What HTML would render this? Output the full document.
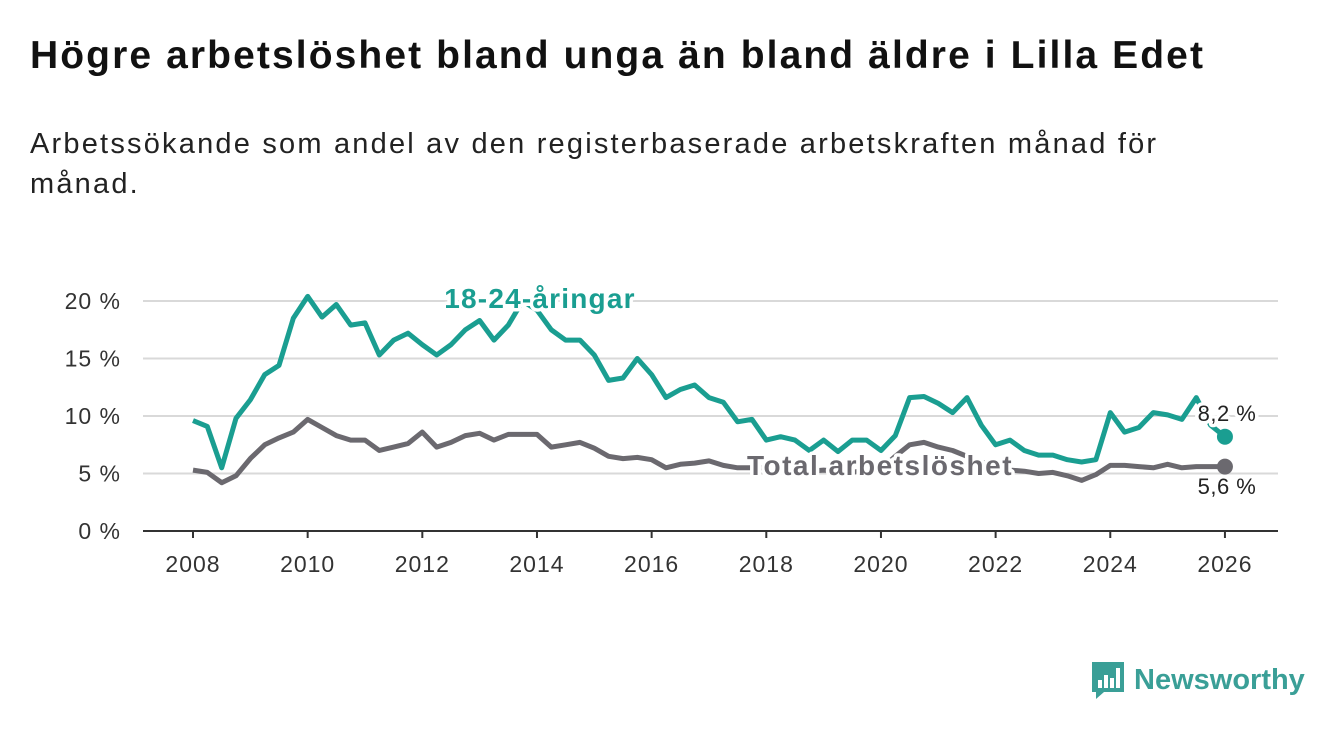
<!DOCTYPE html>
<html><head><meta charset="utf-8"><style>
body{margin:0;width:1340px;height:734px;background:#fff;font-family:"Liberation Sans",sans-serif;overflow:hidden;position:relative}
h1{position:absolute;left:30px;top:34px;margin:0;font-size:39px;font-weight:bold;color:#111;letter-spacing:2.1px}
p.sub{position:absolute;left:30px;top:124px;margin:0;font-size:29px;line-height:40px;color:#222;width:1200px;letter-spacing:2.2px}
svg{position:absolute;left:0;top:0}
.logo{position:absolute;left:1090px;top:660px;display:flex;align-items:center;gap:8px;color:#3a9f97;font-size:29px;font-weight:bold}
</style></head><body>
<h1>Högre arbetslöshet bland unga än bland äldre i Lilla Edet</h1>
<p class="sub">Arbetssökande som andel av den registerbaserade arbetskraften månad för månad.</p>
<svg id="chart" width="1340" height="734"></svg>
<div class="logo">
<svg width="36" height="40" viewBox="0 0 36 40" style="position:static"><path d="M2 2h32v30H14l-8 7v-7H2z" fill="#3a9f97"/><rect x="8" y="20" width="4" height="8" fill="#fff"/><rect x="14" y="15" width="4" height="13" fill="#fff"/><rect x="20" y="18" width="4" height="10" fill="#fff"/><rect x="26" y="8" width="4" height="20" fill="#fff"/></svg>
<span>Newsworthy</span></div>
<script>
const yTicks=[0,5,10,15,20];
const xTicks=[2008,2010,2012,2014,2016,2018,2020,2022,2024,2026];
const startYear=2008, step=0.25;
const youth=[9.6,9.1,5.5,9.8,11.4,13.6,14.4,18.5,20.4,18.6,19.7,17.9,18.1,15.3,16.6,17.2,16.2,15.3,16.2,17.5,18.3,16.6,17.9,20.0,19.2,17.5,16.6,16.6,15.3,13.1,13.3,15.0,13.6,11.6,12.3,12.7,11.6,11.2,9.5,9.7,7.9,8.2,7.9,7.0,7.9,6.9,7.9,7.9,7.0,8.3,11.6,11.7,11.1,10.3,11.6,9.2,7.5,7.9,7.0,6.6,6.6,6.2,6.0,6.2,10.3,8.6,9.0,10.3,10.1,9.7,11.6,9.2,8.2];
const total=[5.3,5.1,4.2,4.8,6.3,7.5,8.1,8.6,9.7,9.0,8.3,7.9,7.9,7.0,7.3,7.6,8.6,7.3,7.7,8.3,8.5,7.9,8.4,8.4,8.4,7.3,7.5,7.7,7.2,6.5,6.3,6.4,6.2,5.5,5.8,5.9,6.1,5.7,5.5,5.5,5.5,5.3,5.2,5.2,5.3,5.2,5.1,5.3,5.4,6.5,7.5,7.7,7.3,7.0,6.5,6.0,5.6,5.3,5.2,5.0,5.1,4.8,4.4,4.9,5.7,5.7,5.6,5.5,5.8,5.5,5.6,5.6,5.6];
const svg=document.getElementById('chart');const NS='http://www.w3.org/2000/svg';
const X=yr=>193+(yr-2008)*57.33; const Y=v=>531-v*11.5;
function mk(t,a,p){const e=document.createElementNS(NS,t);for(const k in a)e.setAttribute(k,a[k]);(p||svg).appendChild(e);return e;}
yTicks.forEach(v=>{
 if(v>0){const g=mk('line',{x1:143,x2:1278,y1:Y(v),y2:Y(v),stroke:'#d9d9d9','stroke-width':2});
 
 }
 const t=mk('text',{x:121,y:Y(v)+8,'text-anchor':'end','font-size':23,'letter-spacing':1,fill:'#333'});t.textContent=v+' %';
 
 
});
const ax=mk('line',{x1:143,x2:1278,y1:531,y2:531,stroke:'#333','stroke-width':2});


xTicks.forEach(yr=>{
 mk('line',{x1:X(yr),x2:X(yr),y1:531,y2:538,stroke:'#333','stroke-width':2});
 const t=mk('text',{x:X(yr),y:572,'text-anchor':'middle','font-size':23,'letter-spacing':1,fill:'#333'});t.textContent=yr;
 
 
});
function line(data,color,name){
 const d=data.map((v,i)=>(i?'L':'M')+X(startYear+i*step).toFixed(1)+' '+Y(v).toFixed(1)).join(' ');
 const p=mk('path',{d:d,fill:'none',stroke:color,'stroke-width':5,'stroke-linejoin':'round'});
 
 
 const last=data[data.length-1];
 const c=mk('circle',{cx:X(startYear+(data.length-1)*step),cy:Y(last),r:8,fill:color});
 
 
}
line(total,'#6b696f','total-line');
line(youth,'#1a9e91','youth-line');
function lab(x,y,txt,col,size,bold,anchor,name,ls){
 const t=mk('text',{x:x,y:y,'font-size':size,'font-weight':bold?'bold':'normal',fill:col,'text-anchor':anchor,'letter-spacing':ls,stroke:'#fff','stroke-width':7,'paint-order':'stroke','stroke-linejoin':'round'});
 t.textContent=txt;
 
 
}
lab(540,308,'18-24-åringar','#1a9e91',28,true,'middle','youth-series-label',1.2);
lab(880,475,'Total arbetslöshet','#6b696f',28,true,'middle','total-series-label',1.5);
lab(1227,421,youth[youth.length-1].toString().replace('.',',')+' %','#222',22,false,'middle','youth-end-value',0.5);
lab(1227,494,total[total.length-1].toString().replace('.',',')+' %','#222',22,false,'middle','total-end-value',0.5);
</script>
</body></html>
